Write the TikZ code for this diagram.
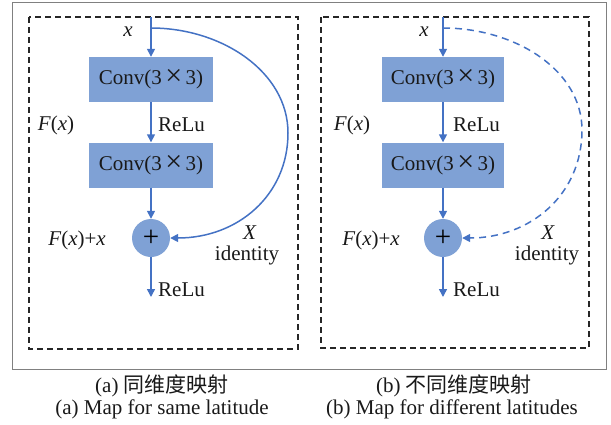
\documentclass[tikz,border=0pt]{standalone}
\usepackage{fontspec}
\setmainfont{Liberation Serif}
\newfontfamily\cjk{Noto Sans CJK SC}
\usetikzlibrary{arrows.meta}
\definecolor{boxblue}{RGB}{127,161,213}
\definecolor{lineblue}{RGB}{68,114,196}
\newcommand{\bigtimes}{\,{\fontsize{30}{24}\selectfont\raisebox{-1pt}{×}}\,}
\begin{document}
\begin{tikzpicture}[x=1pt,y=-1pt,
  font=\fontsize{21}{24}\selectfont,
  frame/.style={draw=gray,line width=1pt},
  dashbox/.style={draw=black!85,line width=1.2pt,dash pattern=on 6pt off 4pt},
  conv/.style={rectangle,fill=boxblue,minimum width=124pt,minimum height=45pt,inner sep=0pt,text=black!90},
  plusnode/.style={circle,fill=boxblue,minimum size=38pt,inner sep=0pt,font=\fontsize{29}{29}\selectfont},
  flow/.style={draw=lineblue,line width=1.5pt,-{Triangle[length=8pt,width=8pt]}},
  skipdash/.style={dash pattern=on 7pt off 5pt},
  lbl/.style={inner sep=0pt,text=black!90}]
\useasboundingbox (0,0) rectangle (611,424);
\draw[frame] (12,2) rectangle (606,369);
\draw[dashbox] (29,17) rectangle (298,349);
\draw[dashbox] (321,17) rectangle (589,348);

% ---------- left diagram ----------
\coordinate (ina) at (151,17);
\coordinate (splita) at (151,28);
\coordinate (mida) at (288,133);
\coordinate (outa) at (151,297);
\node[conv] (c1a) at (151,79.5) {Conv(3\bigtimes3)};
\node[conv] (c2a) at (151,165) {Conv(3\bigtimes3)};
\node[plusnode] (pa) at (151,238) {+};
\draw[flow] (ina) -- (c1a);
\draw[flow] (c1a) -- (c2a);
\draw[flow] (c2a) -- (pa);
\draw[flow] (pa) -- (outa);
\draw[flow] (splita) .. controls (222,28) and (288,72) .. (mida)
  .. controls (288,195) and (238,238) .. (pa.east);
\node[lbl] (xa) at (128,32) {\textit{x}};
\node[lbl] (fa) at (56,125) {\textit{F}(\textit{x})};
\node[lbl,anchor=west] (r1a) at (158,125) {ReLu};
\node[lbl] (fxa) at (77,240) {\textit{F}(\textit{x})+\textit{x}};
\node[lbl] (bxa) at (250,233) {\textit{X}};
\node[lbl] (ida) at (247,255) {identity};
\node[lbl,anchor=west] (r2a) at (158,290) {ReLu};

% ---------- right diagram ----------
\coordinate (inb) at (443,17);
\coordinate (splitb) at (443,28);
\coordinate (midb) at (582,130);
\coordinate (outb) at (443,297);
\node[conv,minimum width=122pt] (c1b) at (443,79.5) {Conv(3\bigtimes3)};
\node[conv,minimum width=122pt] (c2b) at (443,165) {Conv(3\bigtimes3)};
\node[plusnode] (pb) at (443,238) {+};
\draw[flow] (inb) -- (c1b);
\draw[flow] (c1b) -- (c2b);
\draw[flow] (c2b) -- (pb);
\draw[flow] (pb) -- (outb);
\draw[flow,skipdash] (splitb) .. controls (515,28) and (582,70) .. (midb)
  .. controls (582,195) and (530,238) .. (pb.east);
\node[lbl] (xb) at (424,32) {\textit{x}};
\node[lbl] (fb) at (352,125) {\textit{F}(\textit{x})};
\node[lbl,anchor=west] (r1b) at (453,125) {ReLu};
\node[lbl] (fxb) at (371,240) {\textit{F}(\textit{x})+\textit{x}};
\node[lbl] (bxb) at (548,233) {\textit{X}};
\node[lbl] (idb) at (547,255) {identity};
\node[lbl,anchor=west] (r2b) at (453,290) {ReLu};

% ---------- captions ----------
\node[lbl] (capa1) at (162,386) {(a) {\cjk 同维度映射}};
\node[lbl] (capa2) at (162,409) {(a) Map for same latitude};
\node[lbl] (capb1) at (454,386) {(b) {\cjk 不同维度映射}};
\node[lbl] (capb2) at (452,409) {(b) Map for different latitudes};
\end{tikzpicture}
\end{document}
